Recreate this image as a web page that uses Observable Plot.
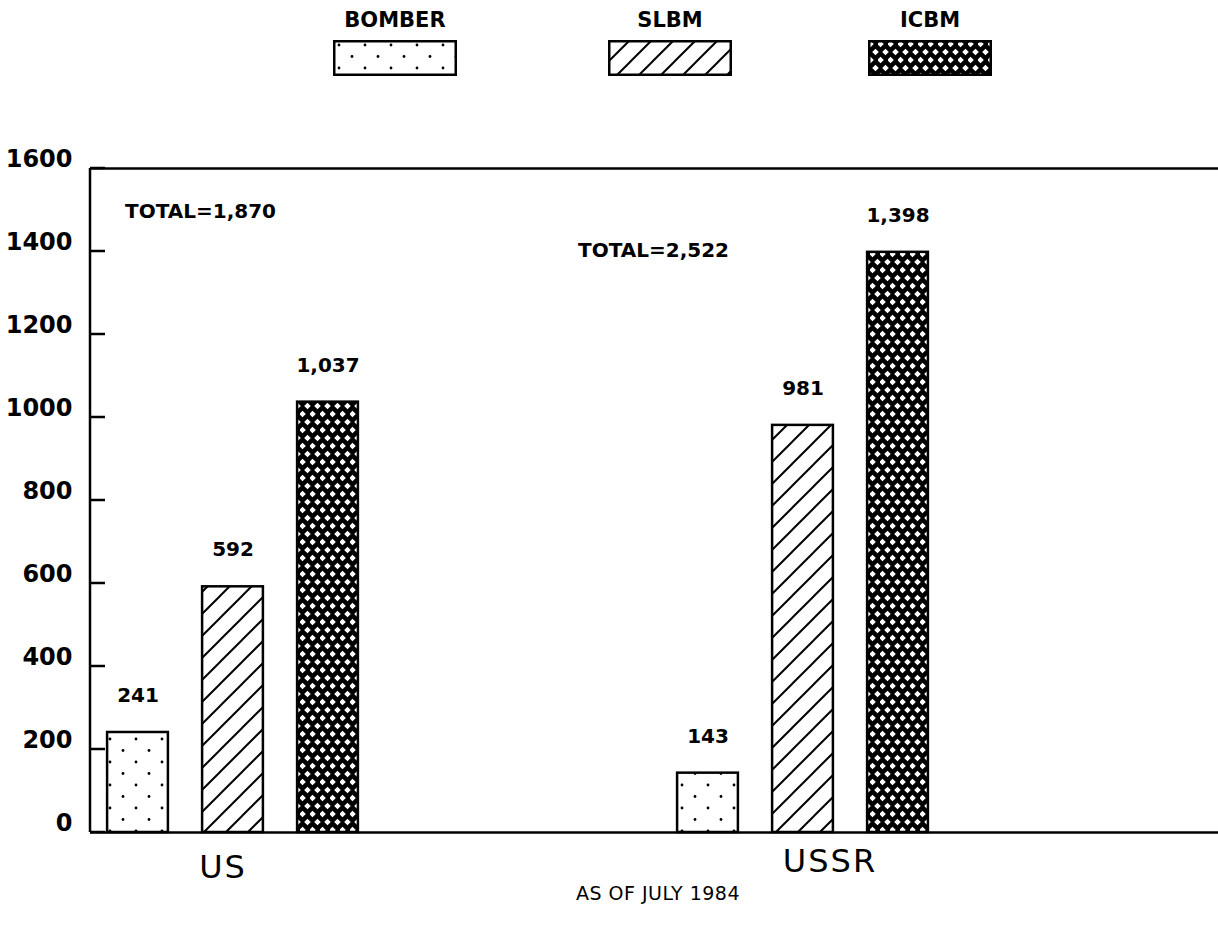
<!DOCTYPE html>
<html>
<head>
<meta charset="utf-8">
<script src="https://cdn.jsdelivr.net/npm/d3@7"></script>
<script src="https://cdn.jsdelivr.net/npm/@observablehq/plot@0.6"></script>
<style>
  html, body { margin: 0; padding: 0; background: #fff; }
  #page { position: relative; width: 1218px; height: 932px; font-family: "DejaVu Sans", sans-serif; color: #000; }
  .legend-item { position: absolute; top: 6px; width: 124px; text-align: center; }
  .legend-item span { display: block; font-size: 21px; font-weight: bold; line-height: 28px; height: 34px; white-space: nowrap; margin: 0 -20px; }
  .legend-item svg { display: block; }
  #chart { position: absolute; left: 0; top: 90px; }
  #caption { position: absolute; left: 558px; width: 200px; top: 881px; text-align: center; font-size: 19px; line-height: 24px; letter-spacing: 0.5px; }
</style>
</head>
<body>
<div id="page">
  <svg width="0" height="0" style="position:absolute">
    <defs>
      <!-- sparse staggered dots -->
      <pattern id="pat-bomber" patternUnits="userSpaceOnUse" width="26" height="23">
        <rect width="26" height="23" fill="#fff"/>
        <circle cx="6" cy="5" r="1.4" fill="#000"/>
        <circle cx="19" cy="16.5" r="1.4" fill="#000"/>
      </pattern>
      <!-- 45 degree single hatch -->
      <pattern id="pat-slbm" patternUnits="userSpaceOnUse" width="22" height="22">
        <rect width="22" height="22" fill="#fff"/>
        <path d="M-2,2L2,-2M0,22L22,0M20,24L24,20" stroke="#000" stroke-width="2"/>
      </pattern>
      <!-- dense cross-hatch: black ground with white openings -->
      <pattern id="pat-icbm" patternUnits="userSpaceOnUse" width="10" height="16">
        <rect width="10" height="16" fill="#000"/>
        <path d="M2.5,0.7L5.8,4L2.5,7.3L-0.8,4Z M7.5,8.7L10.8,12L7.5,15.3L4.2,12Z M-2.5,8.7L0.8,12L-2.5,15.3Z" fill="#fff"/>
      </pattern>
    </defs>
  </svg>
  <div id="legend"></div>
  <div id="chart"></div>
  <div id="caption"></div>
</div>
<script>
// Strategic nuclear delivery vehicles, US vs USSR
const types = ["BOMBER", "SLBM", "ICBM"];
const countries = ["US", "USSR"];
const usValues = [241, 592, 1037];
const ussrValues = [143, 981, 1398];
const yTicks = [0, 200, 400, 600, 800, 1000, 1200, 1400, 1600];
const captionText = "AS OF JULY 1984";

const patternOf = {BOMBER: "url(#pat-bomber)", SLBM: "url(#pat-slbm)", ICBM: "url(#pat-icbm)"};
const seriesByCountry = {US: usValues, USSR: ussrValues};

const rows = countries.flatMap((c) =>
  types.map((t, j) => ({country: c, type: t, value: seriesByCountry[c][j], slot: `${c} ${t}`}))
);
const totals = countries.map((c) => ({country: c, total: d3.sum(seriesByCountry[c])}));

// band slots: three bars per country, followed by three empty slots
const slots = countries.flatMap((c) => [...types.map((t) => `${c} ${t}`), `${c} gap1`, `${c} gap2`, `${c} gap3`]);

const fmt = d3.format(",");

// legend
const legend = document.getElementById("legend");
const legendLeft = {BOMBER: 333, SLBM: 608, ICBM: 868};
for (const t of types) {
  const item = document.createElement("div");
  item.className = "legend-item";
  item.style.left = legendLeft[t] + "px";
  item.innerHTML = `<span>${t}</span><svg width="124" height="36"><rect x="1.25" y="1.25" width="121.5" height="33.5" fill="${patternOf[t]}" stroke="#000" stroke-width="2.5"/></svg>`;
  legend.appendChild(item);
}

document.getElementById("caption").textContent = captionText;

// left axis line with short inward ticks
function leftAxis(index, scales, values, dims) {
  const {marginLeft, marginTop, height, marginBottom} = dims;
  let d = `M${marginLeft},${marginTop}V${height - marginBottom}`;
  for (const t of yTicks) d += `M${marginLeft},${scales.y(t)}h15`;
  const g = d3.create("svg:g");
  g.append("path").attr("d", d).attr("fill", "none").attr("stroke", "#000").attr("stroke-width", 2.5);
  return g.node();
}

const chart = Plot.plot({
  width: 1218,
  height: 802,
  marginLeft: 90,
  marginRight: 0,
  marginTop: 78,
  marginBottom: 60,
  style: {fontFamily: "DejaVu Sans, sans-serif", color: "#000", background: "#fff", overflow: "visible"},
  x: {type: "band", domain: slots, range: [90, 1230], paddingInner: 0.36, paddingOuter: 0.18, round: false, axis: null},
  y: {domain: [0, 1600], axis: null},
  marks: [
    ...types.map((t) =>
      Plot.barY(rows.filter((d) => d.type === t), {
        x: "slot", y: "value", fill: patternOf[t], stroke: "#000", strokeWidth: 2.5
      })
    ),
    Plot.ruleY([0, 1600], {stroke: "#000", strokeWidth: 2.5}),
    leftAxis,
    // y tick labels
    Plot.text(yTicks, {
      y: (d) => d, text: (d) => String(d), frameAnchor: "left", textAnchor: "end",
      dx: -18, dy: -9, fontSize: 24, fontWeight: "bold"
    }),
    // value labels above bars
    Plot.text(rows, {
      x: "slot", y: "value", text: (d) => fmt(d.value), dy: -37, fontSize: 20, fontWeight: "bold"
    }),
    // totals
    Plot.text(totals.filter((d) => d.country === "US"), {
      x: () => "US BOMBER", y: () => 1495, text: (d) => `TOTAL=${fmt(d.total)}`,
      textAnchor: "start", dx: -13, fontSize: 20, fontWeight: "bold"
    }),
    Plot.text(totals.filter((d) => d.country === "USSR"), {
      x: () => "USSR BOMBER", y: () => 1403, text: (d) => `TOTAL=${fmt(d.total)}`,
      textAnchor: "start", dx: -130, fontSize: 20, fontWeight: "bold"
    }),
    // country labels
    Plot.text(["US"], {x: (d) => `${d} SLBM`, text: (d) => d, frameAnchor: "bottom", dx: -10, dy: 45, fontSize: 32}),
    Plot.text(["USSR"], {x: (d) => `${d} SLBM`, text: (d) => d, frameAnchor: "bottom", dx: 27, dy: 39, fontSize: 32})
  ]
});
// slightly open letter spacing on the country names
chart.querySelectorAll("g[font-size='32'] text").forEach((t) => t.setAttribute("letter-spacing", "2"));
document.getElementById("chart").appendChild(chart);
</script>
</body>
</html>
